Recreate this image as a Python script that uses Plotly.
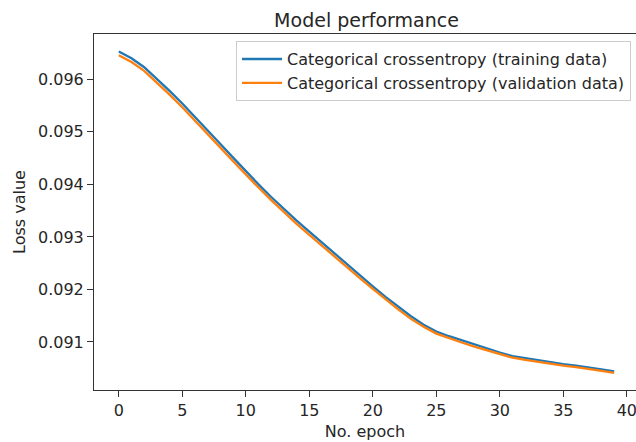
import plotly.graph_objects as go

epochs = list(range(40))
train_loss = [0.09653, 0.09640, 0.09623, 0.09601, 0.09578, 0.09554, 0.09529, 0.09503,
              0.09477, 0.09451, 0.09425, 0.09400, 0.09376, 0.09353, 0.09331, 0.09310,
              0.09289, 0.09268, 0.09247, 0.09226, 0.09206, 0.09186, 0.09167, 0.09149,
              0.09133, 0.09120, 0.09111, 0.09103, 0.09095, 0.09087, 0.09080, 0.09073,
              0.09069, 0.09065, 0.09061, 0.09058, 0.09055, 0.09052, 0.09048, 0.09044]
val_loss = [0.09646, 0.09633, 0.09616, 0.09594, 0.09571, 0.09547, 0.09522, 0.09496,
            0.09470, 0.09444, 0.09418, 0.09394, 0.09370, 0.09347, 0.09325, 0.09304,
            0.09283, 0.09262, 0.09242, 0.09221, 0.09201, 0.09181, 0.09162, 0.09144,
            0.09129, 0.09116, 0.09107, 0.09099, 0.09091, 0.09084, 0.09077, 0.09070,
            0.09066, 0.09062, 0.09058, 0.09055, 0.09052, 0.09049, 0.09045, 0.09041]
series_names = ["Categorical crossentropy (training data)",
                "Categorical crossentropy (validation data)"]
x_ticks = [0, 5, 10, 15, 20, 25, 30, 35, 40]
y_ticks = [0.091, 0.092, 0.093, 0.094, 0.095, 0.096]

FONT = "DejaVu Sans"
TXT = "#262626"

fig = go.Figure()
fig.add_trace(go.Scatter(x=epochs, y=train_loss, mode="lines", name=series_names[0],
                         line=dict(color="#1f77b4", width=2.3), legendgroup="a"))
fig.add_trace(go.Scatter(x=epochs, y=val_loss, mode="lines", name=series_names[1],
                         line=dict(color="#ff7f0e", width=2.3), legendgroup="b"))

fig.update_layout(
    width=636, height=442,
    margin=dict(l=94, r=0, t=34, b=52),
    paper_bgcolor="white", plot_bgcolor="white",
    font=dict(family=FONT, size=16, color=TXT),
    title=dict(text="Model performance", x=366.5 / 636, xref="container", xanchor="center",
               y=1 - 20 / 442, yref="container", yanchor="middle",
               font=dict(family=FONT, size=19, color=TXT)),
    showlegend=True,
    legend=dict(x=0.9908, xanchor="right", y=0.98, yanchor="top", itemwidth=40,
                bgcolor="rgba(255,255,255,0.8)", bordercolor="#cccccc", borderwidth=1,
                font=dict(family=FONT, size=16, color=TXT), tracegroupgap=0),
    xaxis=dict(range=[-1.95, 40.72], tickvals=x_ticks, ticks="outside", ticklen=6,
               tickcolor="#333", showline=True, linecolor="#333", linewidth=1, mirror=True,
               showgrid=False, zeroline=False, ticklabeloverflow="allow",
               title=dict(text="No. epoch", standoff=6, font=dict(size=16))),
    yaxis=dict(range=[0.090086, 0.096863], tickvals=y_ticks, tickformat=".3f",
               ticks="outside", ticklen=6, tickcolor="#333", showline=True,
               linecolor="#333", linewidth=1, mirror=False, showgrid=False, zeroline=False,
               title=dict(text="Loss value", standoff=8, font=dict(size=16))),
)

fig.write_html("out.html", config={"displayModeBar": False},
               post_script="document.body.style.margin='0';document.body.style.overflow='hidden';")
